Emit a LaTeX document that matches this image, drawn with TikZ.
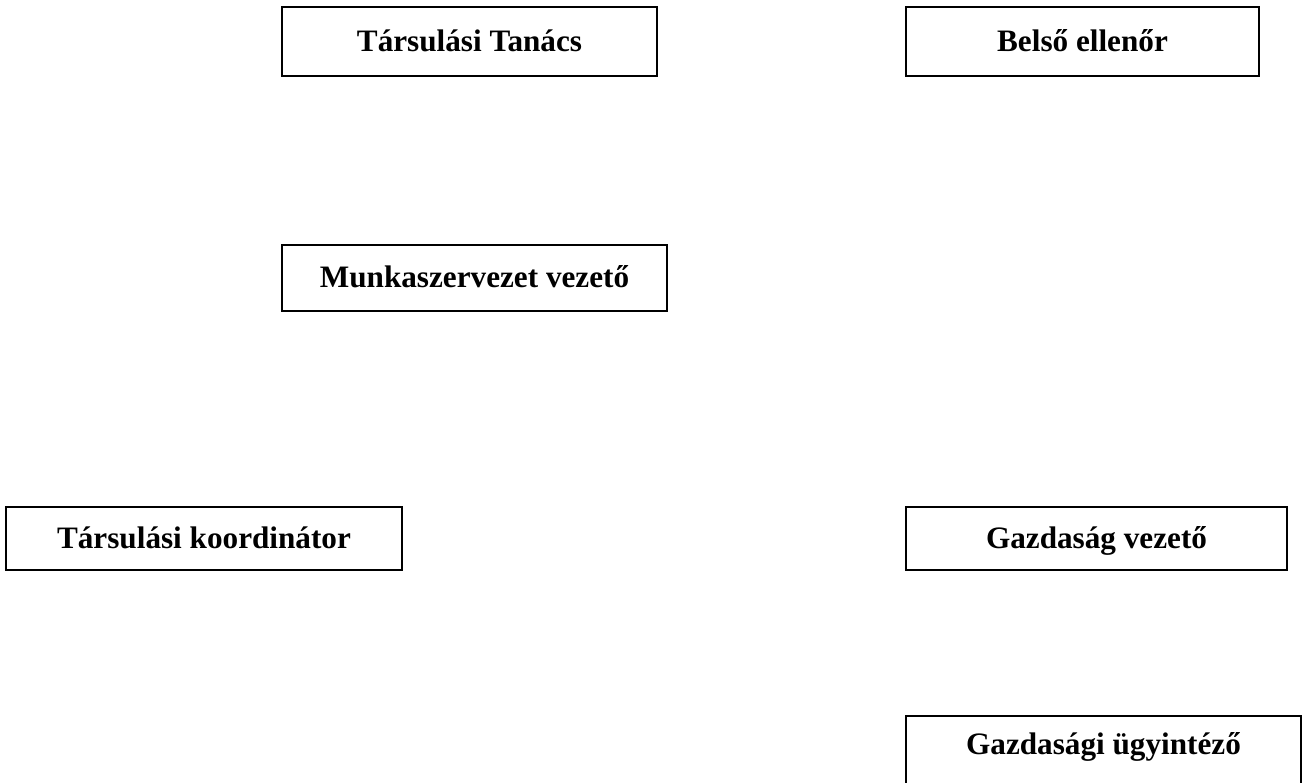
\documentclass[tikz,border=0pt]{standalone}
\usepackage{fontspec}
\setmainfont{Liberation Serif}
\usepackage{tikz}

\begin{document}
\begin{tikzpicture}[
  x=0.5pt, y=-0.5pt,
  font=\fontsize{15.6}{18}\selectfont\bfseries,
  box/.style={draw, line width=1pt, inner sep=0pt, align=center,
              text height=12pt, text depth=2.5pt, minimum height=31.5pt}]
  \useasboundingbox (0,0) rectangle (1304,782);
  \node[box, minimum width=187.5pt, minimum height=34.5pt] (tanacs)  at (469.5,41.5) {Társulási Tanács};
  \node[box, minimum width=176.5pt, minimum height=34.5pt] (ellenor) at (1082.5,41.5) {Belső ellenőr};
  \node[box, minimum width=192.5pt, minimum height=33pt]   (munka)   at (474.5,278) {Munkaszervezet vezető};
  \node[box, minimum width=198pt]   (koord)   at (204,538.5)  {Társulási koordinátor};
  \node[box, minimum width=190.5pt] (gazdvez) at (1096.5,538.5) {Gazdaság vezető};
  \node[box, minimum width=197.5pt, minimum height=35pt, text depth=9pt] (ugyint) at (1103.5,751) {Gazdasági ügyintéző};
\end{tikzpicture}
\end{document}
